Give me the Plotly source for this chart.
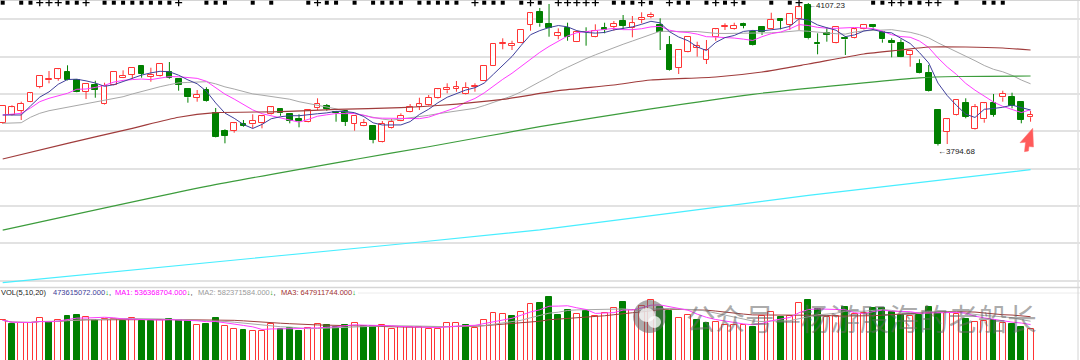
import pandas as pd
import plotly.graph_objects as go

W, H = 1080, 360

# ---------------- data ----------------
opens = [3843.4, 3861.6, 3870.4, 3890.8, 3923.7, 3937.7, 3940.6, 3956.6, 3938.4, 3912.7,
         3927.4, 3885.7, 3927.4, 3943.4, 3950.0, 3969.7, 3944.9, 3947.1, 3955.2, 3940.6,
         3918.6, 3898.9, 3916.4, 3865.3, 3826.5, 3827.2, 3841.2, 3841.2, 3843.4, 3863.1,
         3874.1, 3863.1, 3852.2, 3846.3, 3876.3, 3881.3, 3868.8, 3871.0, 3841.9, 3838.1,
         3837.5, 3803.0, 3833.1, 3849.1, 3868.8, 3879.8, 3883.5, 3898.2, 3915.8, 3919.3,
         3907.0, 3922.4, 3936.8, 3969.7, 4017.3, 4012.9, 4020.2, 4059.0, 4087.5, 4061.8,
         4035.5, 4051.7, 4022.4, 4044.3, 4033.3, 4051.7, 4055.2, 4067.7, 4051.7, 4069.9,
         4077.2, 4059.0, 4015.1, 3965.3, 4000.4, 4009.2, 3982.2, 4032.0, 4055.2, 4050.2,
         4061.2, 4044.3, 4053.9, 4049.5, 4072.8, 4059.0, 4072.1, 4102.8, 4020.2, 4040.8,
         4018.8, 4029.8, 4029.8, 4049.5, 4059.0, 4044.3, 4024.5, 4020.2, 3993.2, 3972.8,
         3954.4, 3872.6, 3825.0, 3860.9, 3887.3, 3830.2, 3852.2, 3887.3, 3900.4, 3900.4,
         3890.8, 3856.6]
highs = [3883.5, 3882.9, 3890.8, 3910.5, 3949.3, 3958.1, 3962.5, 3970.6, 3939.0, 3931.1,
         3936.8, 3932.4, 3957.5, 3959.6, 3966.0, 3971.2, 3965.3, 3975.6, 3977.8, 3941.5,
         3920.8, 3916.4, 3922.4, 3877.0, 3830.2, 3846.3, 3850.6, 3863.1, 3859.5, 3879.5,
         3875.0, 3864.0, 3863.1, 3873.5, 3898.2, 3885.7, 3870.4, 3872.0, 3861.0, 3852.8,
         3838.5, 3848.4, 3852.8, 3865.3, 3885.7, 3899.5, 3905.5, 3920.8, 3931.1, 3936.2,
         3933.3, 3931.1, 3970.0, 4018.0, 4029.8, 4024.5, 4049.0, 4085.5, 4096.3, 4105.0,
         4051.7, 4064.0, 4045.8, 4053.9, 4060.5, 4064.0, 4067.7, 4080.9, 4078.7, 4086.8,
         4086.8, 4073.7, 4034.9, 4005.0, 4034.0, 4022.4, 4026.1, 4050.5, 4062.7, 4064.0,
         4064.0, 4048.0, 4056.8, 4085.9, 4074.0, 4084.0, 4099.0, 4107.23, 4040.8, 4053.9,
         4056.0, 4034.9, 4050.5, 4060.0, 4061.2, 4045.0, 4029.8, 4027.6, 4003.0, 3983.8,
         3971.3, 3873.5, 3853.0, 3895.5, 3898.2, 3885.7, 3888.0, 3907.7, 3914.9, 3910.5,
         3891.5, 3870.4]
lows = [3841.9, 3860.5, 3850.6, 3889.8, 3920.2, 3931.1, 3936.8, 3937.5, 3911.4, 3896.7,
        3899.5, 3884.5, 3926.5, 3942.5, 3940.6, 3943.4, 3934.6, 3946.0, 3940.6, 3914.9,
        3888.6, 3890.8, 3891.0, 3812.5, 3799.5, 3822.8, 3835.9, 3832.4, 3832.4, 3862.0,
        3860.1, 3843.4, 3834.6, 3845.5, 3872.6, 3871.0, 3846.9, 3837.5, 3827.2, 3837.0,
        3799.5, 3801.5, 3832.0, 3848.0, 3867.5, 3872.6, 3882.5, 3897.0, 3909.2, 3912.7,
        3906.0, 3912.7, 3936.0, 3969.0, 4005.7, 4004.1, 4019.0, 4046.5, 4055.2, 4033.3,
        4027.6, 4024.5, 4021.5, 4013.6, 4032.0, 4040.8, 4046.5, 4049.5, 4032.0, 4062.7,
        4073.7, 4004.1, 3959.0, 3951.5, 3999.0, 3989.5, 3973.4, 4024.5, 4048.0, 4049.0,
        4051.7, 4014.0, 4037.0, 4048.5, 4049.5, 4048.0, 4048.0, 4027.6, 3994.7, 4022.4,
        4018.0, 3993.2, 4029.0, 4048.5, 4048.0, 4020.2, 3988.1, 3988.5, 3967.5, 3953.0,
        3913.0, 3794.68, 3798.0, 3860.0, 3854.4, 3829.0, 3844.7, 3857.9, 3890.8, 3876.3,
        3843.4, 3846.9]
closes = [3882.0, 3878.5, 3886.4, 3909.2, 3947.8, 3939.9, 3961.8, 3938.4, 3912.7, 3929.6,
          3916.4, 3925.2, 3956.6, 3947.1, 3965.3, 3951.5, 3949.3, 3974.1, 3942.1, 3927.4,
          3900.4, 3906.1, 3892.3, 3814.0, 3816.2, 3843.4, 3838.1, 3848.4, 3858.8, 3878.5,
          3865.3, 3849.1, 3848.4, 3872.6, 3886.4, 3874.8, 3866.0, 3846.3, 3860.1, 3843.4,
          3806.8, 3841.9, 3846.9, 3860.1, 3879.8, 3885.1, 3899.5, 3918.0, 3920.2, 3922.4,
          3921.5, 3925.2, 3969.1, 4017.3, 4020.2, 4018.0, 4048.0, 4084.6, 4062.7, 4053.1,
          4040.8, 4033.3, 4043.0, 4043.0, 4045.8, 4048.0, 4061.2, 4056.8, 4062.7, 4073.7,
          4080.9, 4044.3, 3960.3, 4004.1, 4033.3, 4012.9, 4004.1, 4049.5, 4056.8, 4056.8,
          4057.4, 4015.1, 4043.6, 4069.9, 4068.5, 4083.1, 4097.8, 4029.8, 4016.7, 4037.7,
          4055.2, 4027.6, 4049.5, 4059.0, 4053.9, 4027.6, 4018.8, 3989.5, 4002.0, 3954.4,
          3914.2, 3798.0, 3852.2, 3894.5, 3857.9, 3878.5, 3887.3, 3861.6, 3907.7, 3881.3,
          3850.6, 3861.6]

# volume, millions of shares
volume_m = [600.6, 544.7, 565.0, 565.0, 636.1, 575.2, 605.6, 666.6, 676.7, 646.3,
            610.7, 626.0, 626.0, 595.5, 631.0, 585.3, 595.5, 610.7, 626.0, 600.6,
            595.5, 534.5, 544.7, 636.1, 509.1, 473.6, 458.3, 443.1, 443.1, 544.7,
            468.5, 483.7, 448.2, 493.9, 544.7, 524.4, 504.1, 534.5, 565.0, 514.2,
            514.2, 534.5, 473.6, 504.1, 504.1, 504.1, 473.6, 473.6, 565.0, 565.0,
            534.5, 493.9, 600.6, 702.1, 686.9, 666.6, 722.4, 839.3, 859.6, 951.0,
            676.7, 747.8, 686.9, 737.7, 661.5, 702.1, 778.3, 874.8, 747.8, 813.9,
            900.2, 798.6, 737.7, 636.1, 676.7, 605.6, 565.0, 575.2, 524.4, 534.5,
            534.5, 504.1, 666.6, 727.5, 651.4, 661.5, 854.5, 905.3, 768.2, 646.3,
            661.5, 798.6, 686.9, 702.1, 788.5, 778.3, 727.5, 676.7, 666.6, 671.6,
            798.6, 707.2, 712.3, 697.1, 615.8, 570.1, 585.3, 600.6, 565.0, 544.7,
            504.1, 473.615072]

# moving-average values at the left edge (history before the window is not visible)
ma5_head = [3861.6, 3861.6, 3861.6, 3881.3]
ma10_head = [3861.6, 3863.8, 3865.3, 3876.9, 3890.8, 3898.2, 3903.3, 3909.2, 3918.0]
ma20_head = [3843.4, 3844.1, 3844.7, 3856.6, 3865.3, 3871.0, 3874.8, 3878.5, 3882.9, 3887.3,
             3890.8, 3894.5, 3897.4, 3901.7, 3907.7, 3913.6, 3919.3, 3923.7, 3928.1]

# long moving averages read at sample candles
ma60_idx = [0, 7, 14, 19, 23, 30, 36, 43, 47, 54, 60, 66, 70, 77, 82, 87, 93, 97, 100, 104, 108, 111]
ma60_val = [3765.1, 3799.5, 3832.4, 3856.6, 3866.7, 3868.8, 3874.1, 3877.6, 3882.4, 3896.0, 3914.9,
            3927.4, 3938.4, 3944.9, 3955.9, 3973.4, 3995.4, 4004.1, 4010.7, 4010.7, 4008.5, 4004.1]
ma120_idx = [0, 22, 38, 46, 58, 70, 81, 93, 99, 103, 111]
ma120_val = [3609.0, 3705.0, 3764.0, 3792.0, 3836.0, 3875.0, 3907.0, 3932.0, 3943.0, 3946.0, 3947.1]
ma250_idx = [0, 29, 58, 87, 111]
ma250_val = [3494.1, 3551.3, 3609.6, 3685.3, 3741.9]

grid_prices = [4071.5, 3989.6, 3907.7, 3825.8, 3743.9, 3662.0, 3580.1, 3498.2]

info_square_idx = [0, 2, 3, 7, 8, 11, 12, 13, 14, 15, 16, 17, 18, 22, 23, 24, 27, 29, 33, 35, 36, 38,
                   40, 41, 42, 43, 45, 46, 47, 48, 49, 52, 53, 54, 56, 58, 66, 67, 68, 70, 73, 74,
                   76, 78, 80, 83, 85, 94, 95, 98, 99, 103, 106, 107, 108]
info_dagger_idx = [4, 5, 6, 9, 19, 34, 51, 57, 60, 61, 62, 63, 64, 69, 72, 77, 79, 86, 96, 97, 100, 101]

vol_label = ["VOL(5,10,20)", "473615072.000", "MA1: 536368704.000", "MA2: 582371584.000",
             "MA3: 647911744.000"]
watermark = "公众号—杨游股海的老船长"

# ---------------- styles ----------------
RED = "#ff3434"
GREEN = "#008000"
C_MA5 = "#40409c"
C_MA10 = "#ff3cff"
C_MA20 = "#a8a8a8"
C_MA60 = "#a03c3c"
C_MA120 = "#3c9c3c"
C_MA250 = "#48eeff"

MAIN_BOTTOM = 285  # pixel row where the price panel ends
VOL_TOP = 287


def px(x):
    return x / W


def py(y):
    return 1 - y / H


n = len(closes)
idx = list(range(n))
cs = pd.Series(closes)


def moving(series, k, head):
    r = series.rolling(k).mean().tolist()
    r[:len(head)] = head
    return r


ma5 = moving(cs, 5, ma5_head)
ma10 = moving(cs, 10, ma10_head)
ma20 = moving(cs, 20, ma20_head)

vol = pd.Series(volume_m)
vma5 = vol.rolling(5, min_periods=1).mean().tolist()
vma10 = vol.rolling(10, min_periods=1).mean().tolist()
vma20 = vol.rolling(20, min_periods=1).mean().tolist()

fig = go.Figure()

# ---- candle wicks (drawn as upper / lower shadows) ----
for up, col in ((True, RED), (False, GREEN)):
    wx, wy = [], []
    for i in idx:
        o, h, l, c = opens[i], highs[i], lows[i], closes[i]
        if (c >= o) != up:
            continue
        top, bot = max(o, c), min(o, c)
        if h > top:
            wx += [i, i, None]
            wy += [top, h, None]
        if l < bot:
            wx += [i, i, None]
            wy += [bot, l, None]
    fig.add_trace(go.Scatter(x=wx, y=wy, mode="lines", line=dict(color=col, width=1),
                             hoverinfo="skip", xaxis="x", yaxis="y"))

# ---- candle bodies ----
for up in (True, False):
    bx, bb, bh = [], [], []
    for i in idx:
        o, c = opens[i], closes[i]
        if (c >= o) != up:
            continue
        bx.append(i)
        bb.append(min(o, c))
        bh.append(max(abs(c - o), 0.4))
    fig.add_trace(go.Bar(
        x=bx, y=bh, base=bb, width=0.62,
        marker=dict(color="white" if up else GREEN,
                    line=dict(color=RED if up else GREEN, width=1)),
        hoverinfo="skip", xaxis="x", yaxis="y"))

# ---- moving averages ----
for vals, col in ((ma20, C_MA20), (ma10, C_MA10), (ma5, C_MA5)):
    fig.add_trace(go.Scatter(x=idx, y=vals, mode="lines", line=dict(color=col, width=1),
                             hoverinfo="skip", xaxis="x", yaxis="y"))
for xs, vals, col in ((ma60_idx, ma60_val, C_MA60), (ma120_idx, ma120_val, C_MA120),
                      (ma250_idx, ma250_val, C_MA250)):
    fig.add_trace(go.Scatter(x=xs, y=vals, mode="lines",
                             line=dict(color=col, width=1.2, shape="spline", smoothing=0.6),
                             hoverinfo="skip", xaxis="x", yaxis="y"))

# ---- volume ----
vup = []
for i in idx:
    if i == 0:
        vup.append(closes[i] >= opens[i])
    elif closes[i] != closes[i - 1]:
        vup.append(closes[i] > closes[i - 1])
    else:
        vup.append(closes[i] >= opens[i])
for up in (True, False):
    xs = [i for i in idx if vup[i] == up]
    ys = [volume_m[i] for i in xs]
    fig.add_trace(go.Bar(
        x=xs, y=ys, width=0.64,
        marker=dict(color="white" if up else GREEN,
                    line=dict(color=RED if up else GREEN, width=1)),
        hoverinfo="skip", xaxis="x", yaxis="y2"))
for vals, col in ((vma20, "#a03c3c"), (vma10, "#a8a8a8"), (vma5, "#ff3cff")):
    fig.add_trace(go.Scatter(x=idx, y=vals, mode="lines", line=dict(color=col, width=1),
                             hoverinfo="skip", xaxis="x", yaxis="y2"))

# ---- information markers along the top (overlay axis 0..1 over the price panel) ----
mark_y = 1 - 2.7 / MAIN_BOTTOM
fig.add_trace(go.Scatter(x=info_square_idx, y=[mark_y] * len(info_square_idx), mode="markers",
                         marker=dict(symbol="square", size=4, color="black"), cliponaxis=False,
                         hoverinfo="skip", xaxis="x", yaxis="y3"))
fig.add_trace(go.Scatter(x=info_dagger_idx, y=[mark_y] * len(info_dagger_idx), mode="markers",
                         marker=dict(symbol="cross-thin", size=5, color="black",
                                     line=dict(color="black", width=1.3)),
                         cliponaxis=False, hoverinfo="skip", xaxis="x", yaxis="y3"))

# ---------------- annotations ----------------
ann = []
hi_i = max(idx, key=lambda i: highs[i])
lo_i = min(idx, key=lambda i: lows[i])
small = dict(family="Liberation Sans, DejaVu Sans", size=8, color="#202020")
ann.append(dict(x=hi_i, y=highs[hi_i], xref="x", yref="y", text="←" + f"{highs[hi_i]:.2f}",
                showarrow=False, xanchor="left", yanchor="top", xshift=-2, yshift=4,
                font=small))
ann.append(dict(x=lo_i, y=lows[lo_i], xref="x", yref="y", text="←" + f"{lows[lo_i]:.2f}",
                showarrow=False, xanchor="left", yanchor="middle", xshift=-2, yshift=-5.5,
                font=small))

lab_font = dict(family="Liberation Sans, DejaVu Sans", size=7.5)
down = "<span style='color:#00a000'>↓</span>"
segments = [
    (0, f"<span style='color:#202020'>{vol_label[0]}</span>"),
    (51.7, f"<span style='color:#3c3c96'>{vol_label[1]}</span>{down}<span style='color:#202020'>,</span>"),
    (113.6, f"<span style='color:#ff00ff'>{vol_label[2]}</span>{down}<span style='color:#202020'>,</span>"),
    (197, f"<span style='color:#9a9a9a'>{vol_label[3]}</span>{down}<span style='color:#202020'>,</span>"),
    (279.6, f"<span style='color:#a03030'>{vol_label[4]}</span>{down}"),
]
for x0, t in segments:
    ann.append(dict(x=px(x0), y=py(292), xref="paper", yref="paper", text=t, showarrow=False,
                    xanchor="left", yanchor="middle", xshift=-1, font=lab_font))

ann.append(dict(x=px(684), y=py(317), xref="paper", yref="paper", text=watermark,
                showarrow=False, xanchor="left", yanchor="middle",
                font=dict(family="Noto Sans CJK SC", size=29.5, color="rgba(100,100,100,0.55)")))

# ---------------- decorative shapes ----------------
shapes = [
    dict(type="line", xref="paper", yref="paper", x0=0, x1=1, y0=py(0.5), y1=py(0.5),
         line=dict(color="#d4d4d4", width=1), layer="below"),
    dict(type="line", xref="paper", yref="paper", x0=0, x1=1, y0=py(287.5), y1=py(287.5),
         line=dict(color="#d6d6d6", width=1.5), layer="below"),
    dict(type="line", xref="paper", yref="paper", x0=px(358), x1=1, y0=py(293), y1=py(293),
         line=dict(color="#ececec", width=1), layer="below"),
    dict(type="line", xref="paper", yref="paper", x0=px(1078), x1=px(1078), y0=0, y1=1,
         line=dict(color="#d4d4d4", width=1), layer="below"),
    # wechat icon
    dict(type="circle", xref="paper", yref="paper", x0=px(633), x1=px(666), y0=py(333), y1=py(300),
         fillcolor="rgba(100,100,100,0.55)", line=dict(width=0)),
    dict(type="circle", xref="paper", yref="paper", x0=px(639), x1=px(655), y0=py(322), y1=py(308),
         fillcolor="rgba(255,255,255,0.75)", line=dict(width=0)),
    dict(type="circle", xref="paper", yref="paper", x0=px(648), x1=px(661), y0=py(328), y1=py(316),
         fillcolor="rgba(255,255,255,0.75)", line=dict(width=0)),
]
arrow_pts = [(1032.7, 128.3), (1020, 142.7), (1025.5, 142.3), (1024.5, 151.7),
             (1028.5, 151), (1029, 146.5), (1033.5, 147)]
path = "M " + " L ".join(f"{px(x):.5f},{py(y):.5f}" for x, y in arrow_pts) + " Z"
shapes.append(dict(type="path", xref="paper", yref="paper", path=path,
                   fillcolor="#ff5a5a", line=dict(color="#ff7070", width=0.5)))

# ---------------- layout ----------------
bar_px = 9.26
x0 = -2.7 / bar_px
fig.update_layout(
    width=W, height=H,
    margin=dict(l=0, r=0, t=0, b=0, pad=0),
    paper_bgcolor="white", plot_bgcolor="rgba(0,0,0,0)",
    showlegend=False, barmode="overlay", bargap=0,
    xaxis=dict(range=[x0, x0 + W / bar_px], showgrid=False, zeroline=False,
               showticklabels=False, ticks="", showline=False, fixedrange=True),
    yaxis=dict(domain=[1 - MAIN_BOTTOM / H, 1], range=[3488.8, 4113.8], tickvals=grid_prices,
               showgrid=True, gridcolor="#e2e2e2", gridwidth=1.5, zeroline=False,
               showticklabels=False, ticks="", showline=False),
    yaxis2=dict(domain=[0, 1 - VOL_TOP / H], range=[14.75, 1091.5], showgrid=False, zeroline=False,
                showticklabels=False, ticks="", showline=False),
    yaxis3=dict(overlaying="y", range=[0, 1], visible=False),
    annotations=ann,
    shapes=shapes,
)

fig.write_html("out.html", config={"displayModeBar": False},
               post_script="document.body.style.margin='0';document.body.style.overflow='hidden';")
